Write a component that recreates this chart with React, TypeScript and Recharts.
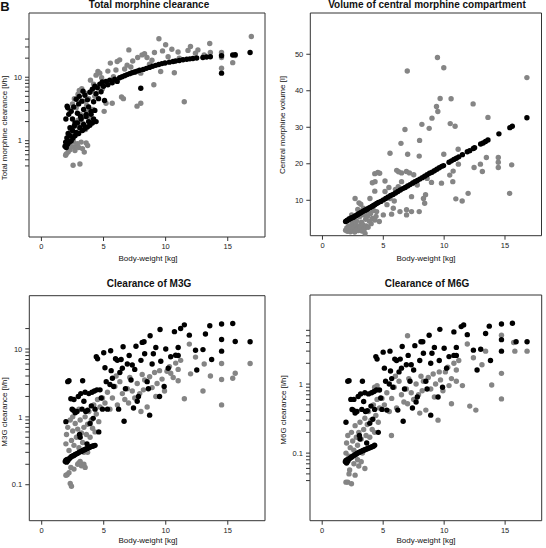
import React from 'react';
import { ScatterChart, Scatter, XAxis, YAxis, ReferenceArea } from 'recharts';

type Pt = [number, number];

// body-weight [kg] vs value
const clObs: Pt[] = [
  [1.95, 0.59], [2.0, 0.62], [2.1, 0.78], [2.15, 0.66], [2.25, 0.9], [2.3, 0.72], [2.55, 0.41], [2.45, 0.8], [2.6, 0.95],
  [2.7, 0.7], [2.8, 0.82], [2.9, 0.9], [3.0, 0.78], [3.1, 0.43], [3.2, 0.95], [3.3, 0.75], [3.45, 0.66], [3.6, 0.92],
  [3.72, 0.84], [2.2, 1.2], [2.35, 1.5], [2.5, 1.3], [2.65, 1.7], [2.8, 1.25], [2.95, 2.1], [3.05, 1.6], [3.15, 2.6],
  [3.3, 1.9], [3.45, 2.4], [3.55, 1.5], [3.7, 2.8], [3.85, 2.2], [4.0, 2.0], [4.15, 3.1], [2.3, 3.0], [2.5, 3.8],
  [2.65, 4.6], [2.8, 3.3], [2.95, 5.4], [3.05, 6.2], [3.25, 6.6], [3.4, 4.2], [3.5, 5.6], [3.65, 3.6], [3.8, 4.6],
  [3.95, 9.0], [4.05, 6.0], [4.2, 7.8], [4.3, 5.0], [4.4, 10.8], [4.55, 12.3], [4.7, 11.6], [4.85, 9.8], [4.9, 6.5],
  [5.05, 2.9], [5.2, 3.9], [5.35, 12.5], [5.55, 16.7], [5.7, 3.9], [5.8, 10.2], [6.0, 13.0], [6.1, 17.7], [6.3, 18.8],
  [6.45, 4.9], [6.6, 4.6], [6.7, 13.5], [6.9, 15.5], [7.04, 27.0], [7.2, 14.5], [7.35, 18.0], [7.55, 12.0], [7.7, 3.5],
  [7.75, 20.5], [8.0, 3.9], [8.0, 11.6], [8.1, 22.5], [8.3, 23.5], [8.5, 20.5], [8.7, 16.0], [8.9, 18.5], [9.05, 7.6],
  [9.1, 24.5], [9.46, 40.4], [9.6, 12.3], [9.75, 26.0], [10.0, 32.5], [10.2, 21.0], [10.5, 27.6], [10.7, 11.8],
  [11.0, 25.0], [11.1, 20.0], [11.5, 4.1], [11.8, 26.5], [12.0, 30.5], [12.4, 24.0], [12.6, 27.0], [13.1, 22.5],
  [13.55, 34.0], [13.6, 24.5], [14.5, 24.5], [14.5, 22.5], [14.5, 20.5], [14.5, 13.9], [15.4, 17.0], [15.6, 22.0],
  [16.9, 44.0],
];

const clPred: Pt[] = [
  [1.9, 0.82], [1.95, 0.95], [2.0, 0.78], [2.05, 1.1], [2.1, 0.88], [2.15, 1.3], [2.25, 0.95], [2.3, 1.2], [2.4, 1.0],
  [2.5, 1.45], [2.55, 1.1], [2.65, 1.7], [2.7, 1.2], [2.8, 1.35], [2.9, 1.9], [3.0, 1.3], [3.1, 1.6], [3.2, 2.2],
  [3.3, 1.45], [3.4, 1.8], [3.5, 1.55], [3.6, 2.4], [3.7, 1.65], [3.8, 2.0], [3.9, 1.75], [4.0, 2.6], [4.1, 1.9],
  [4.2, 2.2], [4.3, 3.0], [4.4, 2.0],
  [1.97, 2.2], [2.07, 3.5], [2.12, 3.3], [2.2, 2.6], [2.3, 1.6], [2.4, 2.9], [2.5, 2.2], [2.6, 3.4], [2.7, 1.9],
  [2.8, 4.5], [2.9, 2.7], [3.0, 3.8], [3.05, 5.0], [3.15, 2.4], [3.25, 4.2], [3.35, 6.0], [3.4, 3.1], [3.5, 5.2],
  [3.6, 2.6], [3.7, 4.4], [3.8, 3.4], [3.9, 5.8], [4.0, 2.9], [4.1, 6.5], [4.2, 4.1], [4.3, 7.2], [4.4, 5.5], [4.5, 6.8],
  [4.6, 4.6], [4.7, 7.8], [4.8, 5.9], [4.9, 8.4], [5.0, 7.2], [5.08, 4.3], [5.2, 8.6], [5.35, 7.6], [5.5, 9.0],
  [5.7, 8.2], [5.9, 9.3], [6.1, 8.6], [6.3, 9.8], [6.5, 10.2], [6.7, 10.6], [6.9, 11.0], [7.1, 11.4], [7.3, 11.8],
  [7.5, 12.1], [7.7, 12.5], [7.9, 12.9], [8.0, 6.7], [8.2, 13.3], [8.45, 13.8], [8.7, 14.3], [8.95, 14.9], [9.2, 15.4],
  [9.45, 15.9], [9.7, 16.4], [9.95, 16.8], [10.3, 17.3], [10.6, 17.7], [10.8, 18.0], [11.1, 18.4], [11.4, 18.9],
  [11.7, 19.2], [11.95, 19.5], [12.2, 19.8], [12.5, 20.1], [13.0, 20.5], [13.3, 20.8], [13.6, 21.1], [14.5, 21.8],
  [14.5, 11.6], [15.4, 22.4], [15.6, 22.6], [16.8, 24.5],
];

const vObs: Pt[] = [
  [9.45, 49.1], [9.97, 46.3], [6.97, 45.4], [16.8, 43.6], [9.67, 37.9], [10.57, 37.8], [9.37, 35.7], [9.48, 34.3],
  [12.38, 36.4], [13.6, 32.7], [9.0, 32.5], [8.17, 30.8], [8.77, 29.7], [6.78, 29.4], [10.5, 31.0], [10.9, 30.3],
  [6.45, 25.6], [7.98, 26.4], [5.55, 22.9], [7.0, 22.6], [7.95, 22.1], [9.97, 22.6], [11.15, 24.0], [13.47, 21.7],
  [14.45, 21.7], [14.45, 20.4], [14.45, 19.0], [15.55, 19.7], [12.98, 19.9], [12.46, 19.0], [13.14, 17.9], [11.17, 19.9],
  [10.74, 18.0], [10.46, 16.9], [10.71, 15.1], [9.78, 14.7], [8.96, 14.9], [8.6, 16.0], [8.47, 11.5], [8.3, 10.5],
  [8.4, 9.2], [10.96, 10.4], [11.48, 9.8], [11.97, 11.9], [15.38, 11.9], [7.46, 14.8], [7.79, 14.2], [7.32, 11.0],
  [6.91, 7.4], [6.37, 6.9], [6.91, 6.0], [7.32, 6.9], [7.95, 6.9], [5.82, 7.8], [5.68, 6.2], [5.0, 6.0], [4.45, 6.9],
  [4.67, 4.2], [4.3, 17.3], [4.55, 17.6], [4.7, 17.4], [4.32, 15.1], [5.14, 15.3], [5.46, 13.5], [6.1, 18.2],
  [6.25, 17.8], [6.5, 17.5], [6.9, 17.9], [7.15, 17.5], [7.5, 17.0], [6.5, 15.1], [6.23, 13.7], [5.14, 12.4],
  [5.55, 10.5], [3.9, 10.5], [2.68, 10.5], [3.0, 9.3], [3.15, 8.9], [3.36, 7.8], [4.1, 14.8], [4.3, 12.5], [5.3, 8.8],
  [5.9, 9.8], [6.0, 13.0],
  [1.9, 1.8], [2.0, 2.4], [2.05, 1.5], [2.15, 3.0], [2.2, 2.0], [2.3, 1.4], [2.35, 2.8], [2.45, 3.6], [2.5, 1.9],
  [2.6, 2.5], [2.65, 1.3], [2.75, 3.2], [2.8, 4.3], [2.85, 2.1], [2.95, 1.7], [3.0, 3.0], [3.05, 5.5], [3.1, 2.4],
  [3.2, 4.0], [3.25, 1.6], [3.3, 3.4], [3.4, 6.0], [3.45, 2.2], [3.5, 0.9], [3.55, 4.8], [3.6, 3.0], [3.7, 5.6],
  [3.75, 2.6], [3.85, 4.3], [3.95, 6.4], [4.0, 3.6], [4.1, 5.0], [4.2, 7.2], [4.3, 4.6], [4.4, 5.6], [2.4, 6.0],
  [2.9, 7.5], [3.2, 7.0], [3.6, 6.9], [2.2, 5.0], [2.55, 4.6],
];

const vPred: Pt[] = [
  [1.9, 4.2], [2.0, 4.4], [2.05, 4.5], [2.1, 4.6], [2.2, 4.8], [2.3, 5.0], [2.4, 5.2], [2.5, 5.3], [2.6, 5.5], [2.7, 5.7],
  [2.8, 5.9], [2.9, 6.1], [3.0, 6.3], [3.1, 6.5], [3.2, 6.7], [3.3, 6.9], [3.4, 7.1], [3.5, 7.3], [3.6, 7.4], [3.7, 7.6],
  [3.8, 7.8], [3.9, 8.0], [4.0, 8.2], [4.1, 8.4], [4.2, 8.6], [4.3, 8.8], [4.45, 9.1], [4.6, 9.4], [4.8, 9.7], [5.0, 10.1],
  [5.2, 10.5], [5.4, 10.9], [5.6, 11.3], [5.8, 11.6], [6.0, 12.0], [6.2, 12.4], [6.4, 12.8], [6.6, 13.2], [6.8, 13.5],
  [7.0, 13.9], [7.2, 14.3], [7.4, 14.7], [7.6, 15.1], [7.8, 15.4], [8.0, 15.8], [8.2, 16.2], [8.4, 16.6], [8.6, 17.0],
  [8.8, 17.4], [9.0, 17.7], [9.2, 18.1], [9.4, 18.5], [9.6, 18.9], [9.8, 19.3], [9.95, 19.5], [10.4, 20.4], [10.6, 20.8],
  [10.8, 21.2], [11.0, 21.5], [11.2, 21.9], [11.5, 22.5], [11.9, 23.3], [12.1, 23.6], [12.4, 24.2], [12.5, 24.4],
  [13.0, 25.4], [13.2, 25.7], [13.4, 26.1], [13.6, 26.5], [14.5, 28.2], [15.4, 29.9], [15.6, 30.3], [16.8, 32.6],
];

const m3gGray: Pt[] = [
  [1.95, 0.138], [2.05, 0.14], [2.2, 0.15], [2.3, 0.104], [2.4, 0.095], [2.35, 0.18], [2.6, 0.17], [2.9, 0.2], [3.0, 0.21],
  [3.2, 0.19], [3.4, 0.2], [3.5, 0.18], [3.1, 0.22],
  [1.95, 0.4], [2.0, 0.55], [2.1, 0.7], [2.2, 0.32], [2.3, 0.9], [2.4, 0.45], [2.5, 0.62], [2.6, 0.38], [2.7, 0.8],
  [2.8, 0.5], [2.9, 0.66], [3.0, 0.35], [3.1, 0.9], [3.2, 0.58], [3.3, 0.42], [3.4, 0.7], [3.5, 1.0], [3.6, 0.55],
  [3.7, 0.78], [3.8, 1.2], [3.9, 0.5], [4.0, 0.9], [4.1, 0.68], [4.2, 1.5], [4.3, 0.6], [4.4, 1.1], [4.5, 1.8],
  [4.6, 0.85], [2.5, 1.0], [3.0, 1.3], [3.4, 0.3], [3.7, 0.3], [4.7, 1.4], [4.9, 1.9],
  [5.1, 1.6], [5.3, 2.3], [5.5, 1.3], [5.7, 1.9], [5.9, 2.8], [6.1, 1.5], [6.3, 3.3], [6.5, 2.2], [6.7, 1.8], [6.9, 2.6],
  [7.1, 3.8], [7.3, 2.4], [7.5, 1.9], [7.7, 3.1], [7.9, 2.2], [8.0, 1.2], [8.1, 4.2], [8.3, 3.5], [8.5, 1.4], [8.7, 3.9],
  [8.9, 2.7], [9.1, 4.5], [9.3, 3.1], [9.5, 4.8], [9.7, 3.6], [9.9, 2.4], [10.1, 4.7], [10.3, 5.5], [10.4, 4.4],
  [10.6, 3.8], [10.8, 6.2], [11.0, 3.4], [11.0, 5.0], [11.2, 6.8], [11.5, 1.85], [11.9, 11.8], [12.0, 4.3], [12.4, 7.6],
  [13.0, 2.4], [13.1, 6.0], [13.6, 4.0], [14.5, 6.1], [14.5, 3.55], [14.5, 1.5], [15.4, 3.7], [15.6, 4.4], [16.8, 6.1],
  [6.0, 4.0], [7.0, 1.6], [8.2, 2.5], [9.2, 2.0],
];

const m3gBlack: Pt[] = [
  [1.9, 0.22], [1.95, 0.23], [2.0, 0.215], [2.05, 0.235], [2.1, 0.225], [2.2, 0.24], [2.3, 0.25], [2.4, 0.26],
  [2.5, 0.265], [2.6, 0.27], [2.7, 0.28], [2.8, 0.285], [2.9, 0.29], [3.0, 0.3], [3.1, 0.305], [3.2, 0.31], [3.3, 0.32],
  [3.4, 0.325], [3.5, 0.33], [3.6, 0.34], [3.7, 0.345], [3.8, 0.35], [3.9, 0.36], [4.0, 0.365], [4.1, 0.37],
  [4.2, 0.375], [4.3, 0.38],
  [1.95, 0.85], [2.1, 3.3], [2.2, 3.4], [2.35, 1.85], [2.45, 1.3], [2.55, 1.25], [2.6, 1.8], [2.7, 1.15], [2.85, 1.2],
  [2.95, 2.0], [3.05, 0.55], [3.1, 0.5], [3.15, 2.2], [3.25, 1.3], [3.3, 3.4], [3.4, 1.7], [3.5, 2.3], [3.55, 1.2],
  [3.65, 0.4], [3.7, 1.25], [3.8, 2.2], [3.9, 0.8], [4.0, 1.45], [4.05, 2.3], [4.15, 0.95], [4.25, 2.4], [4.3, 1.3],
  [4.4, 7.7], [4.45, 2.5], [4.5, 7.2], [4.6, 0.6], [4.7, 2.5], [4.8, 1.9], [4.9, 1.3],
  [5.0, 8.8], [5.1, 5.3], [5.2, 3.3], [5.3, 1.3], [5.56, 9.4], [5.5, 3.0], [5.6, 4.8], [5.7, 3.7], [5.8, 2.8], [5.95, 7.2],
  [6.1, 6.8], [6.2, 1.3], [6.3, 4.5], [6.4, 7.0], [6.56, 10.8], [6.5, 5.2], [6.64, 0.86], [6.75, 2.6], [6.9, 6.0],
  [7.05, 8.0], [7.2, 3.5], [7.3, 5.8], [7.4, 1.35], [7.6, 11.0], [7.5, 5.0], [7.7, 1.7], [7.8, 2.0], [8.0, 6.8],
  [8.1, 12.5], [8.25, 12.8], [8.3, 8.5], [8.5, 3.3], [8.6, 2.6], [8.74, 15.7], [8.7, 1.06], [8.9, 6.0], [9.0, 8.5],
  [9.2, 10.5], [9.5, 2.0], [9.54, 19.4], [9.6, 6.6], [9.87, 2.8], [10.0, 10.0], [10.2, 5.2], [10.4, 7.7], [10.7, 18.0],
  [10.8, 8.1], [11.0, 10.5], [11.0, 8.0], [11.2, 20.0], [11.5, 22.7], [11.9, 16.0], [12.4, 9.6], [12.5, 4.9], [13.0, 9.8],
  [13.2, 16.6], [13.55, 22.0], [13.7, 7.0], [14.5, 23.3], [14.5, 13.8], [14.5, 9.3], [15.4, 23.8], [15.6, 12.9],
  [16.8, 12.8],
];

const m6gGray: Pt[] = [
  [1.95, 0.038], [2.1, 0.038], [2.4, 0.036], [2.25, 0.057], [2.7, 0.048], [3.5, 0.06], [2.2, 0.05],
  [1.95, 0.1], [2.0, 0.14], [2.1, 0.18], [2.2, 0.09], [2.3, 0.12], [2.4, 0.2], [2.5, 0.15], [2.6, 0.11], [2.7, 0.25],
  [2.8, 0.17], [2.9, 0.13], [3.0, 0.2], [3.1, 0.28], [3.2, 0.16], [3.3, 0.1], [3.4, 0.22], [3.5, 0.32], [3.6, 0.18],
  [3.7, 0.26], [3.8, 0.4], [3.9, 0.17], [4.0, 0.3], [4.1, 0.22], [4.2, 0.5], [4.3, 0.2], [4.4, 0.35], [4.5, 0.6],
  [4.6, 0.28], [4.3, 0.9], [4.5, 0.95], [4.7, 0.45], [4.9, 0.62], [2.6, 0.07], [2.9, 0.08], [3.2, 0.075], [3.0, 0.065],
  [5.1, 0.5], [5.3, 0.75], [5.5, 0.4], [5.68, 0.18], [5.7, 0.62], [5.9, 0.9], [6.1, 0.45], [6.3, 1.1], [6.5, 0.7],
  [6.7, 0.55], [6.9, 0.85], [7.0, 5.0], [7.1, 1.2], [7.3, 0.75], [7.5, 0.6], [7.7, 1.0], [7.9, 0.7], [8.0, 0.38],
  [8.1, 1.3], [8.3, 1.1], [8.5, 0.42], [8.7, 1.25], [8.9, 0.85], [9.1, 1.4], [9.3, 1.0], [9.5, 0.3], [9.6, 1.5],
  [9.7, 1.15], [9.9, 0.8], [10.1, 1.5], [10.3, 1.75], [10.4, 0.95], [10.6, 1.2], [10.8, 2.0], [10.6, 0.52], [11.0, 1.1],
  [11.0, 1.6], [11.2, 2.2], [11.5, 0.95], [11.9, 3.8], [12.1, 0.48], [12.4, 2.4], [12.6, 0.42], [13.1, 1.9], [13.4, 3.0],
  [13.9, 0.97], [14.7, 5.1], [14.7, 1.43], [14.7, 0.61], [15.7, 4.0], [15.8, 3.0], [16.8, 3.0], [6.0, 1.3], [7.0, 0.52],
  [8.2, 0.8], [9.2, 0.65],
];

const m6gBlack: Pt[] = [
  [1.9, 0.075], [1.95, 0.078], [2.0, 0.072], [2.05, 0.08], [2.1, 0.076], [2.2, 0.082], [2.3, 0.085], [2.4, 0.087],
  [2.5, 0.09], [2.6, 0.092], [2.7, 0.095], [2.8, 0.097], [2.9, 0.1], [3.0, 0.102], [3.1, 0.104], [3.2, 0.106],
  [3.3, 0.108], [3.4, 0.11], [3.5, 0.112], [3.6, 0.114], [3.7, 0.116], [3.8, 0.118], [3.9, 0.12], [4.0, 0.122],
  [4.1, 0.124], [4.2, 0.126], [4.3, 0.13],
  [1.95, 0.28], [2.1, 1.1], [2.2, 1.12], [2.35, 0.6], [2.45, 0.43], [2.55, 0.42], [2.6, 0.6], [2.7, 0.38], [2.85, 0.4],
  [2.95, 0.66], [3.05, 0.18], [3.1, 0.16], [3.15, 0.72], [3.25, 0.43], [3.3, 1.1], [3.4, 0.56], [3.5, 0.75], [3.55, 0.4],
  [3.65, 0.14], [3.7, 0.41], [3.8, 0.72], [3.9, 0.27], [4.0, 0.48], [4.05, 0.75], [4.15, 0.31], [4.25, 0.78], [4.3, 0.43],
  [4.4, 2.5], [4.45, 0.82], [4.5, 2.3], [4.6, 0.2], [4.7, 0.82], [4.8, 0.63], [4.9, 0.43],
  [5.0, 2.9], [5.1, 1.7], [5.2, 1.1], [5.3, 0.42], [5.56, 3.0], [5.5, 1.0], [5.6, 1.55], [5.7, 1.2], [5.8, 0.9],
  [5.95, 2.3], [6.1, 2.2], [6.2, 0.42], [6.3, 1.5], [6.4, 2.3], [6.56, 3.5], [6.5, 1.7], [6.64, 0.29], [6.75, 0.85],
  [6.9, 1.9], [7.05, 2.6], [7.2, 1.1], [7.3, 1.9], [7.4, 0.45], [7.6, 3.6], [7.5, 1.6], [7.7, 0.55], [7.8, 0.65],
  [8.0, 2.2], [8.1, 4.1], [8.25, 4.1], [8.3, 2.8], [8.5, 1.1], [8.6, 0.85], [8.77, 5.1], [8.9, 0.355], [8.9, 2.0],
  [9.0, 2.8], [9.2, 3.4], [9.5, 0.65], [9.65, 6.2], [9.6, 2.2], [9.87, 0.9], [10.0, 3.3], [10.2, 1.7], [10.4, 2.5],
  [10.8, 5.7], [10.8, 2.6], [11.0, 3.4], [11.0, 2.6], [11.4, 6.8], [11.6, 7.2], [11.9, 5.2], [12.4, 3.1], [12.7, 1.6],
  [13.0, 3.2], [13.4, 5.4], [13.7, 6.9], [13.8, 2.2], [14.7, 7.4], [14.7, 4.4], [14.7, 3.0], [15.6, 7.6], [15.9, 4.1],
  [16.8, 4.1],
];

const xTicks = [0, 5, 10, 15];
const clTicks = [0.4, 0.5, 0.6, 0.7, 0.8, 0.9, 1, 2, 3, 4, 5, 6, 7, 8, 9, 10, 20, 30, 40];
const vTicks = [10, 20, 30, 40, 50];
const m3gTicks = [0.1, 0.2, 0.3, 0.4, 0.5, 0.6, 0.7, 0.8, 0.9, 1, 2, 3, 4, 5, 6, 7, 8, 9, 10, 20];
const m6gTicks = [0.04, 0.05, 0.06, 0.07, 0.08, 0.09, 0.1, 0.2, 0.3, 0.4, 0.5, 0.6, 0.7, 0.8, 0.9, 1, 2, 3, 4, 5, 6];

const FONT = '"Liberation Sans", Arial, Helvetica, sans-serif';
const GRAY = '#858585';
const INK = '#333';
const X_DOMAIN: [number, number] = [-1, 18];

const toPts = (a: Pt[]) => a.map(([x, y]) => ({ x, y }));
const dot = (fill: string) => (p: any) => <circle cx={p.cx} cy={p.cy} r={2.7} fill={fill} />;

interface PanelProps {
  left: number;
  top: number;
  margin: { top: number; right: number; bottom: number; left: number };
  yWidth: number;
  xHeight: number;
  log: boolean;
  yDomain: [number, number];
  yTicks: number[];
  yMajors: number[];
  gray: Pt[];
  black: Pt[];
  boxed?: boolean;
}

const Panel = ({ left, top, margin, yWidth, xHeight, log, yDomain, yTicks, yMajors, gray, black, boxed }: PanelProps) => (
  <div style={{ position: 'absolute', left, top }}>
    <ScatterChart width={273} height={274} margin={margin}>
      <XAxis
        dataKey="x"
        type="number"
        domain={X_DOMAIN}
        ticks={xTicks}
        interval={0}
        height={xHeight}
        axisLine={false}
        tickSize={4}
        tickMargin={3}
        stroke={INK}
        tick={{ fontSize: 7.5, fill: '#222', fontFamily: FONT }}
        allowDataOverflow
      />
      <YAxis
        dataKey="y"
        type="number"
        scale={log ? 'log' : 'linear'}
        domain={yDomain}
        ticks={yTicks}
        interval={0}
        width={yWidth}
        axisLine={false}
        tickSize={4}
        tickMargin={3}
        stroke={INK}
        tick={{ fontSize: 7.5, fill: '#222', fontFamily: FONT }}
        tickFormatter={(v: number) => (yMajors.includes(v) ? String(v) : '')}
        allowDataOverflow
      />
      {boxed && (
        <XAxis
          xAxisId="top"
          orientation="top"
          type="number"
          domain={X_DOMAIN}
          ticks={xTicks}
          interval={0}
          height={13}
          axisLine={false}
          tickSize={4}
          stroke={INK}
          tickFormatter={() => ''}
        />
      )}
      {boxed && (
        <YAxis
          yAxisId="right"
          orientation="right"
          type="number"
          domain={yDomain}
          ticks={yTicks}
          interval={0}
          width={4}
          axisLine={false}
          tickSize={4}
          stroke={INK}
          tickFormatter={() => ''}
        />
      )}
      <Scatter data={toPts(gray)} shape={dot(GRAY)} isAnimationActive={false} />
      <Scatter data={toPts(black)} shape={dot('#000')} isAnimationActive={false} />
      <ReferenceArea
        x1={X_DOMAIN[0]}
        x2={X_DOMAIN[1]}
        y1={yDomain[0]}
        y2={yDomain[1]}
        fill="none"
        stroke={INK}
        strokeWidth={1}
      />
    </ScatterChart>
  </div>
);

const Txt = ({ x, y, children, size = 8, bold = false, rotate = false }: any) => (
  <div
    style={{
      position: 'absolute',
      left: x,
      top: y,
      transform: `translate(-50%, -50%)${rotate ? ' rotate(-90deg)' : ''}`,
      whiteSpace: 'nowrap',
      fontFamily: FONT,
      fontSize: size,
      fontWeight: bold ? 'bold' : 'normal',
      color: '#111',
      lineHeight: 1,
    }}
  >
    {children}
  </div>
);

export default function App() {
  return (
    <div style={{ position: 'absolute', left: 0, top: 0, width: 546, height: 548, background: '#fff', fontFamily: FONT }}>
      <Panel
        left={0}
        top={0}
        margin={{ top: 13, right: 8, bottom: 0, left: 0 }}
        yWidth={29}
        xHeight={37}
        log
        yDomain={[0.0303, 103]}
        yTicks={clTicks}
        yMajors={[1, 10]}
        gray={clObs}
        black={clPred}
      />
      <Panel
        left={273}
        top={0}
        margin={{ top: 0, right: 0.5, bottom: 0.3, left: 0.3 }}
        yWidth={37}
        xHeight={38}
        log={false}
        yDomain={[0.3, 61.3]}
        yTicks={vTicks}
        yMajors={vTicks}
        gray={vObs}
        black={vPred}
        boxed
      />
      <Panel
        left={0}
        top={274}
        margin={{ top: 21.7, right: 8, bottom: 0.3, left: 0.3 }}
        yWidth={29}
        xHeight={27}
        log
        yDomain={[0.0295, 61]}
        yTicks={m3gTicks}
        yMajors={[0.1, 1, 10]}
        gray={m3gGray}
        black={m3gBlack}
      />
      <Panel
        left={273}
        top={274}
        margin={{ top: 21, right: 4.3, bottom: 0.3, left: 0 }}
        yWidth={37}
        xHeight={27}
        log
        yDomain={[0.0105, 19.5]}
        yTicks={m6gTicks}
        yMajors={[0.1, 1]}
        gray={m6gGray}
        black={m6gBlack}
      />

      <Txt x={5} y={6} size={13} bold>B</Txt>
      <Txt x={149} y={5} size={10} bold>Total morphine clearance</Txt>
      <Txt x={427} y={5} size={10} bold>Volume of central morphine compartment</Txt>
      <Txt x={149} y={284} size={10} bold>Clearance of M3G</Txt>
      <Txt x={427} y={284} size={10} bold>Clearance of M6G</Txt>

      <Txt x={148} y={259}>Body-weight [kg]</Txt>
      <Txt x={426} y={259}>Body-weight [kg]</Txt>
      <Txt x={148} y={541}>Body-weight [kg]</Txt>
      <Txt x={426} y={541}>Body-weight [kg]</Txt>

      <Txt x={5} y={128} rotate>Total morphine clearance [l/h]</Txt>
      <Txt x={283} y={125} rotate>Central morphine volume [l]</Txt>
      <Txt x={5} y={412} rotate>M3G clearance [l/h]</Txt>
      <Txt x={284} y={410} rotate>M6G clearance [l/h]</Txt>
    </div>
  );
}
